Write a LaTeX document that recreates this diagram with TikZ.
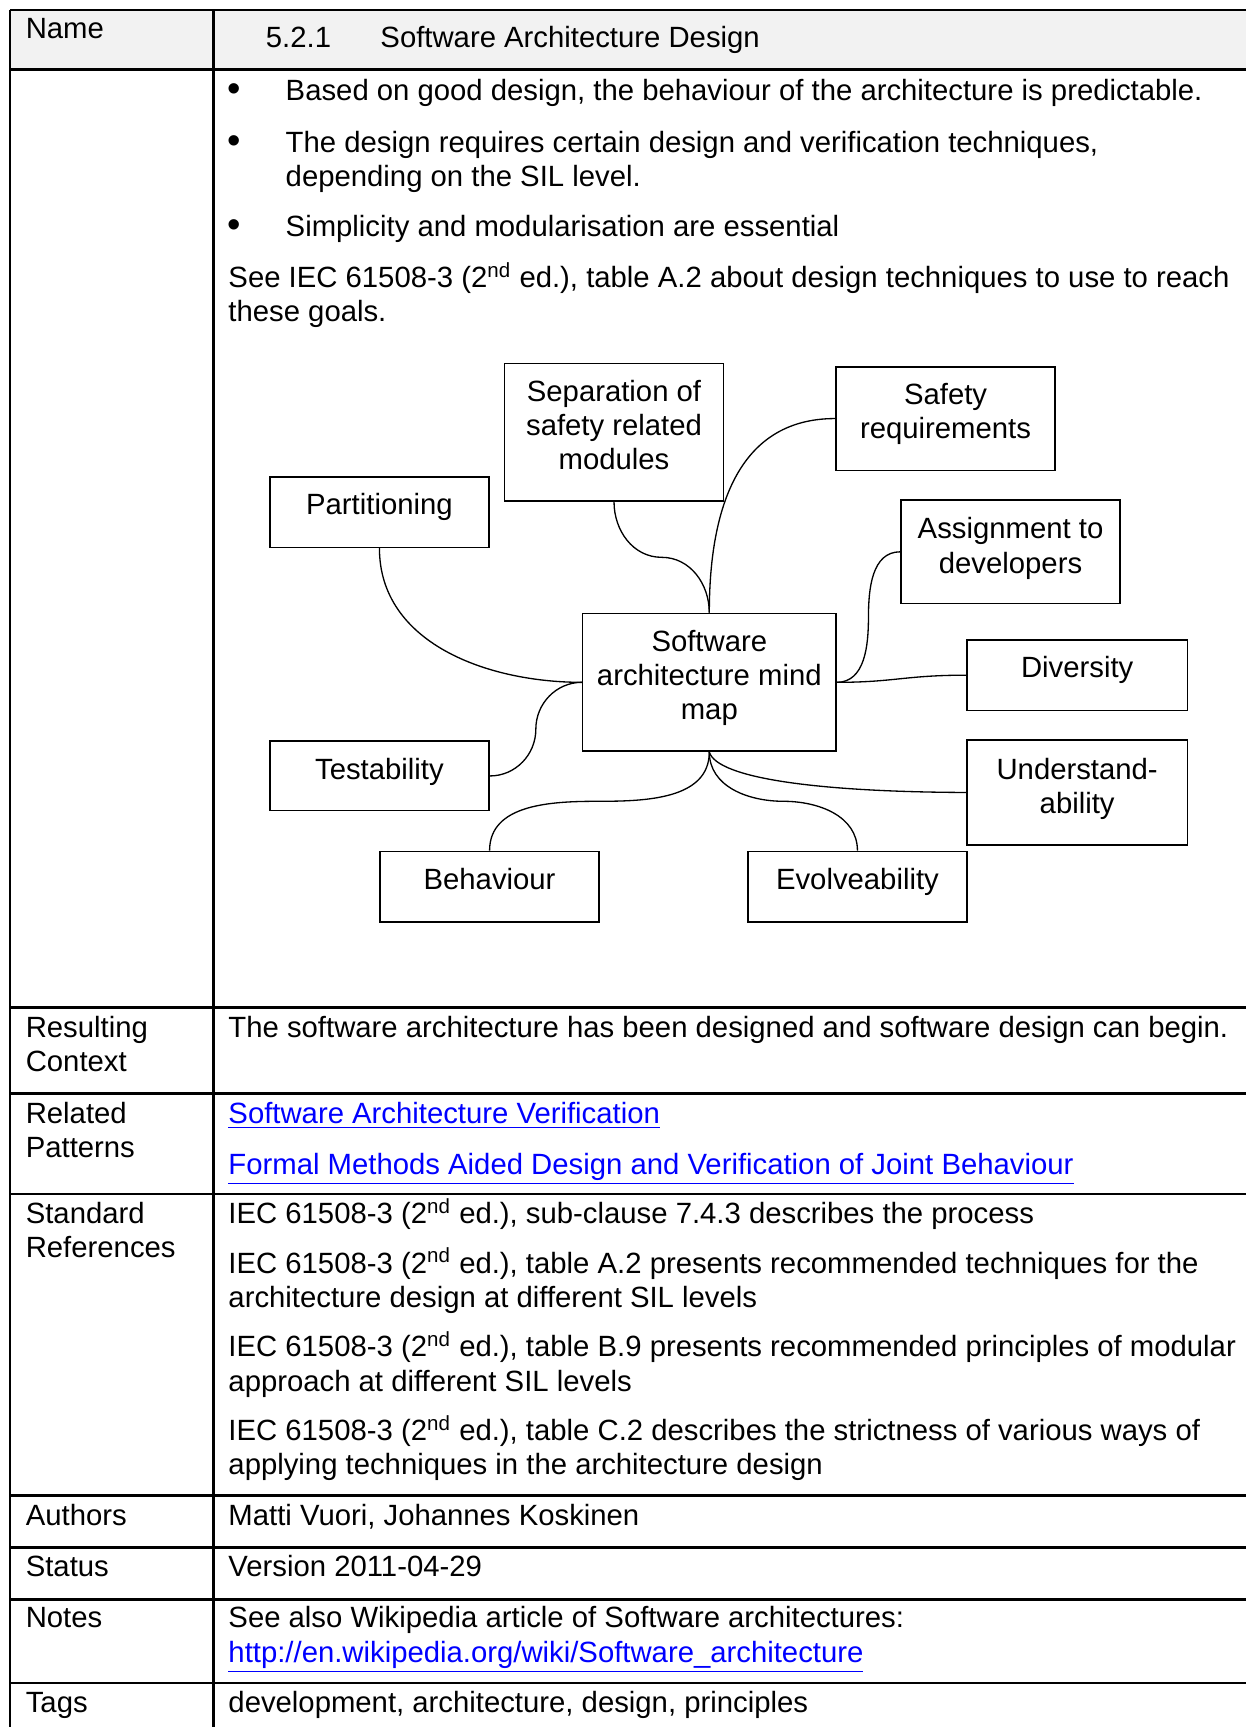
\documentclass[tikz,border=0pt]{standalone}
\usepackage{fontspec}
\setmainfont{Liberation Sans}
\usetikzlibrary{fit,calc}
\definecolor{hdrfill}{HTML}{F2F2F2}
\definecolor{linkblue}{HTML}{0000FF}
% multi-line cell text, baseline on the first line
\newcommand{\ml}[2][l]{\begin{tabular}[t]{@{}#1@{}}#2\end{tabular}}
\newcommand{\nd}{\textsuperscript{nd}}
\newcommand{\lnk}[1]{\textcolor{linkblue}{\underline{#1}}}
\begin{document}
\begin{tikzpicture}[x=0.4606pt,y=-0.4606pt,
  txt/.style={anchor=base west, inner sep=0pt, font=\fontsize{12.25}{14.3}\selectfont},
  bul/.style={anchor=base, inner sep=0pt, font=\fontsize{16}{14.3}\selectfont},
  rule/.style={line width=1.1pt},
  mbox/.style={draw, line width=0.65pt, inner sep=0pt},
  mtext/.style={anchor=base, inner sep=0pt, font=\fontsize{12.25}{14.3}\selectfont},
  branch/.style={line width=0.55pt}]
\useasboundingbox (0,0) rectangle (1131,1568);

% ---------- table frame ----------
\fill[hdrfill] (9,9) rectangle (1131,63);
\foreach \yy in {9,63,915,993,1084,1358,1405,1452,1528}
  \draw[rule] (9,\yy) -- (1131,\yy);
\draw[rule] (9,9) -- (9,1568);
\draw[rule] (194,9) -- (194,1568);

% ---------- left column labels ----------
\node[txt] (lname) at (23,35) {Name};
\node[txt] (lres)  at (23,942) {\ml{Resulting\\Context}};
\node[txt] (lrel)  at (23,1020) {\ml{Related\\Patterns}};
\node[txt] (lstd)  at (23,1111) {\ml{Standard\\References}};
\node[txt] (lauth) at (23,1385) {Authors};
\node[txt] (lstat) at (23,1431) {Status};
\node[txt] (lnote) at (23,1478) {Notes};
\node[txt] (ltags) at (23,1555) {Tags};

% ---------- header ----------
\node[txt] (secno) at (241,43) {5.2.1};
\node[txt] (title) at (345,43) {Software Architecture Design};

% ---------- description ----------
\node[bul] (b1) at (213,92) {•};
\node[txt] (t1) at (259,91) {Based on good design, the behaviour of the architecture is predictable.};
\node[bul] (b2) at (213,139) {•};
\node[txt] (t2) at (259,138) {\ml{The design requires certain design and verification techniques,\\depending on the SIL level.}};
\node[bul] (b3) at (213,216) {•};
\node[txt] (t3) at (259,215) {Simplicity and modularisation are essential};
\node[txt] (t4) at (207,261) {\ml{See IEC 61508-3 (2\nd{} ed.), table A.2 about design techniques to use to reach\\these goals.}};

% ---------- mind map ----------
\node[mbox, fit={(529,557) (759,682)}] (core) {};
\node[mtext] (coret) at ($(core.north)+(0,35)$) {\ml[c]{Software\\architecture mind\\map}};

\node[mbox, fit={(458,330) (657,455)}] (sep) {};
\node[mtext] (sept) at ($(sep.north)+(0,35)$) {\ml[c]{Separation of\\safety related\\modules}};

\node[mbox, fit={(759,333) (958,427)}] (safe) {};
\node[mtext] (safet) at ($(safe.north)+(0,35)$) {\ml[c]{Safety\\requirements}};

\node[mbox, fit={(245,433) (444,497)}] (part) {};
\node[mtext] (partt) at ($(part.north)+(0,35)$) {Partitioning};

\node[mbox, fit={(818,454) (1017,548)}] (assign) {};
\node[mtext] (assignt) at ($(assign.north)+(0,36)$) {\ml[c]{Assignment to\\developers}};

\node[mbox, fit={(878,581) (1078,645)}] (div) {};
\node[mtext] (divt) at ($(div.north)+(0,35)$) {Diversity};

\node[mbox, fit={(245,673) (444,736)}] (test) {};
\node[mtext] (testt) at ($(test.north)+(0,35)$) {Testability};

\node[mbox, fit={(878,672) (1078,767)}] (und) {};
\node[mtext] (undt) at ($(und.north)+(0,36)$) {\ml[c]{Understand-\\ability}};

\node[mbox, fit={(345,773) (544,837)}] (beh) {};
\node[mtext] (beht) at ($(beh.north)+(0,35)$) {Behaviour};

\node[mbox, fit={(679,773) (878,837)}] (evo) {};
\node[mtext] (evot) at ($(evo.north)+(0,35)$) {Evolveability};

% branches
\draw[branch] (part.south) to[out=-90,in=180] (core.west);
\draw[branch] (sep.south) to[out=-90,in=180] ($(sep.south)!.5!(core.north)$)
                          to[out=0,in=90] (core.north);
\draw[branch] (core.north) to[out=90,in=180,looseness=1.1] (safe.west);
\draw[branch] (core.east) to[out=0,in=-90] ($(core.east)!.5!(assign.west)$)
                          to[out=90,in=180] (assign.west);
\draw[branch] (core.east) .. controls (812,619.5) and (822,613) .. (div.west);
\draw[branch] (core.west) to[out=180,in=90] ($(core.west)!.5!(test.east)$)
                          to[out=-90,in=0] (test.east);
\draw[branch] (core.south) .. controls (651,707) and (745,719) .. (und.west);
\draw[branch] (core.south) to[out=-90,in=0] ($(core.south)!.5!(beh.north)$)
                           to[out=180,in=90] (beh.north);
\draw[branch] (core.south) to[out=-90,in=180] ($(core.south)!.5!(evo.north)$)
                           to[out=0,in=90] (evo.north);

% ---------- remaining rows ----------
\node[txt] (res) at (207,942) {The software architecture has been designed and software design can begin.};
\node[txt] (rel1) at (207,1020) {\lnk{Software Architecture Verification}};
\node[txt] (rel2) at (207,1066) {\lnk{Formal Methods Aided Design and Verification of Joint Behaviour}};

\node[txt] (std1) at (207,1111) {IEC 61508-3 (2\nd{} ed.), sub-clause 7.4.3 describes the process};
\node[txt] (std2) at (207,1156) {\ml{IEC 61508-3 (2\nd{} ed.), table A.2 presents recommended techniques for the\\architecture design at different SIL levels}};
\node[txt] (std3) at (207,1232) {\ml{IEC 61508-3 (2\nd{} ed.), table B.9 presents recommended principles of modular\\approach at different SIL levels}};
\node[txt] (std4) at (207,1308) {\ml{IEC 61508-3 (2\nd{} ed.), table C.2 describes the strictness of various ways of\\applying techniques in the architecture design}};

\node[txt] (auth) at (207,1385) {Matti Vuori, Johannes Koskinen};
\node[txt] (stat) at (207,1431) {Version 2011-04-29};
\node[txt] (note) at (207,1478) {\ml{See also Wikipedia article of Software architectures:\\\lnk{http://en.wikipedia.org/wiki/Software\_architecture}}};
\node[txt] (tags) at (207,1555) {development, architecture, design, principles};
\end{tikzpicture}
\end{document}
